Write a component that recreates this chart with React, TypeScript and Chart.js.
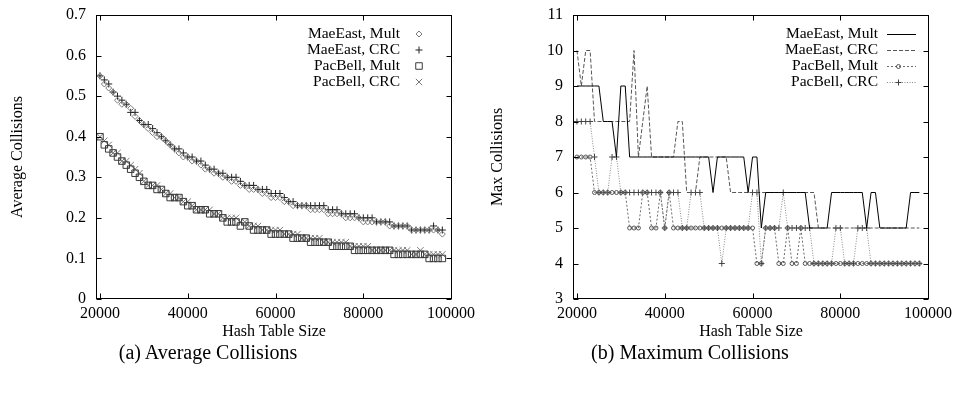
import React, { useEffect, useRef } from 'react';
import { Chart, registerables } from 'chart.js';

Chart.register(...registerables);

// ---------- data ----------
const HASH_SIZES = [
  20000, 21000, 22000, 23000, 24000, 25000, 26000, 27000, 28000, 29000,
  30000, 31000, 32000, 33000, 34000, 35000, 36000, 37000, 38000, 39000,
  40000, 41000, 42000, 43000, 44000, 45000, 46000, 47000, 48000, 49000,
  50000, 51000, 52000, 53000, 54000, 55000, 56000, 57000, 58000, 59000,
  60000, 61000, 62000, 63000, 64000, 65000, 66000, 67000, 68000, 69000,
  70000, 71000, 72000, 73000, 74000, 75000, 76000, 77000, 78000, 79000,
  80000, 81000, 82000, 83000, 84000, 85000, 86000, 87000, 88000, 89000,
  90000, 91000, 92000, 93000, 94000, 95000, 96000, 97000, 98000,
];

const SERIES_NAMES = ['MaeEast, Mult', 'MaeEast, CRC', 'PacBell, Mult', 'PacBell, CRC'];

const AVG_MAEEAST_MULT = [
  0.55, 0.53, 0.52, 0.51, 0.49, 0.48, 0.48, 0.47, 0.45, 0.44,
  0.43, 0.42, 0.41, 0.40, 0.40, 0.39, 0.38, 0.37, 0.36, 0.35,
  0.35, 0.34, 0.34, 0.33, 0.32, 0.32, 0.31, 0.31, 0.30, 0.30,
  0.29, 0.29, 0.28, 0.28, 0.27, 0.27, 0.27, 0.26, 0.26, 0.25,
  0.25, 0.25, 0.24, 0.24, 0.23, 0.23, 0.23, 0.23, 0.22, 0.22,
  0.22, 0.22, 0.21, 0.21, 0.21, 0.21, 0.20, 0.20, 0.20, 0.20,
  0.19, 0.19, 0.19, 0.19, 0.19, 0.19, 0.18, 0.18, 0.18, 0.18,
  0.18, 0.17, 0.17, 0.17, 0.17, 0.17, 0.17, 0.17, 0.16,
];
const AVG_MAEEAST_CRC = [
  0.55, 0.54, 0.53, 0.51, 0.50, 0.49, 0.48, 0.46, 0.46, 0.44,
  0.43, 0.43, 0.42, 0.41, 0.40, 0.39, 0.38, 0.37, 0.37, 0.36,
  0.35, 0.35, 0.34, 0.34, 0.33, 0.32, 0.32, 0.31, 0.31, 0.30,
  0.30, 0.30, 0.29, 0.28, 0.28, 0.28, 0.27, 0.27, 0.27, 0.26,
  0.26, 0.26, 0.25, 0.24, 0.24, 0.23, 0.23, 0.23, 0.23, 0.23,
  0.23, 0.23, 0.22, 0.22, 0.22, 0.21, 0.21, 0.21, 0.21, 0.20,
  0.20, 0.20, 0.20, 0.19, 0.19, 0.19, 0.19, 0.18, 0.18, 0.18,
  0.18, 0.17, 0.17, 0.17, 0.17, 0.17, 0.18, 0.17, 0.17,
];
const AVG_PACBELL_MULT = [
  0.40, 0.38, 0.37, 0.36, 0.35, 0.34, 0.33, 0.32, 0.31, 0.30,
  0.29, 0.28, 0.28, 0.27, 0.27, 0.26, 0.25, 0.25, 0.25, 0.24,
  0.23, 0.23, 0.22, 0.22, 0.22, 0.21, 0.21, 0.21, 0.20, 0.19,
  0.19, 0.19, 0.18, 0.19, 0.18, 0.17, 0.17, 0.17, 0.17, 0.16,
  0.16, 0.16, 0.16, 0.16, 0.15, 0.15, 0.15, 0.15, 0.14, 0.14,
  0.14, 0.14, 0.14, 0.13, 0.13, 0.13, 0.13, 0.13, 0.12, 0.12,
  0.12, 0.12, 0.12, 0.12, 0.12, 0.12, 0.12, 0.11, 0.11, 0.11,
  0.11, 0.11, 0.11, 0.11, 0.11, 0.10, 0.10, 0.10, 0.10,
];
const AVG_PACBELL_CRC = [
  0.40, 0.39, 0.38, 0.36, 0.36, 0.34, 0.34, 0.33, 0.32, 0.31,
  0.29, 0.28, 0.28, 0.28, 0.27, 0.26, 0.26, 0.25, 0.25, 0.24,
  0.24, 0.23, 0.22, 0.22, 0.22, 0.22, 0.21, 0.21, 0.20, 0.20,
  0.20, 0.20, 0.19, 0.19, 0.18, 0.18, 0.18, 0.17, 0.17, 0.17,
  0.17, 0.17, 0.16, 0.16, 0.16, 0.16, 0.15, 0.15, 0.15, 0.15,
  0.15, 0.14, 0.14, 0.14, 0.14, 0.14, 0.14, 0.13, 0.13, 0.13,
  0.13, 0.13, 0.12, 0.12, 0.12, 0.12, 0.12, 0.12, 0.12, 0.12,
  0.12, 0.11, 0.11, 0.12, 0.11, 0.11, 0.11, 0.11, 0.11,
];

const MAX_MAEEAST_MULT = [
  9, 9, 9, 9, 9, 9, 8, 8, 8, 7,
  9, 9, 7, 7, 7, 7, 7, 7, 7, 7,
  7, 7, 7, 7, 7, 7, 7, 7, 7, 7,
  7, 6, 7, 7, 7, 7, 7, 7, 7, 6,
  7, 7, 5, 6, 6, 6, 6, 6, 6, 6,
  6, 6, 6, 5, 5, 5, 5, 5, 6, 6,
  6, 6, 6, 6, 6, 6, 5, 6, 6, 5,
  5, 5, 5, 5, 5, 5, 6, 6, 6,
];
const MAX_MAEEAST_CRC = [
  10, 9, 10, 10, 8, 8, 8, 8, 8, 8,
  8, 8, 8, 10, 7, 8, 9, 7, 7, 7,
  7, 7, 7, 8, 8, 6, 6, 6, 7, 7,
  7, 7, 7, 7, 7, 6, 6, 6, 6, 6,
  6, 6, 6, 6, 6, 6, 6, 6, 6, 6,
  6, 6, 6, 6, 6, 5, 5, 5, 5, 5,
  5, 5, 5, 5, 5, 5, 5, 5, 5, 5,
  5, 5, 5, 5, 5, 5, 5, 5, 5,
];
const MAX_PACBELL_MULT = [
  7, 7, 7, 7, 6, 6, 6, 6, 6, 6,
  6, 6, 5, 5, 5, 6, 6, 5, 5, 6,
  5, 6, 5, 5, 5, 5, 5, 5, 5, 5,
  5, 5, 5, 5, 5, 5, 5, 5, 5, 5,
  5, 4, 4, 5, 5, 5, 4, 4, 5, 4,
  4, 5, 4, 4, 4, 4, 4, 4, 4, 4,
  4, 4, 4, 4, 4, 4, 4, 4, 4, 4,
  4, 4, 4, 4, 4, 4, 4, 4, 4,
];
const MAX_PACBELL_CRC = [
  8, 8, 8, 8, 7, 6, 6, 6, 7, 7,
  6, 6, 6, 6, 6, 6, 6, 6, 6, 6,
  5, 6, 6, 6, 5, 5, 6, 6, 6, 5,
  5, 5, 5, 4, 5, 5, 5, 5, 5, 5,
  6, 6, 4, 5, 5, 5, 5, 6, 5, 5,
  5, 5, 5, 5, 4, 4, 4, 4, 4, 5,
  5, 4, 4, 4, 5, 5, 5, 4, 4, 4,
  4, 4, 4, 4, 4, 4, 4, 4, 4,
];

const X_TICKS = [20000, 40000, 60000, 80000, 100000];
const X_TICK_LABELS = ['20000', '40000', '60000', '80000', '100000'];
const AVG_Y_TICKS = [0, 0.1, 0.2, 0.3, 0.4, 0.5, 0.6, 0.7];
const AVG_Y_LABELS = ['0', '0.1', '0.2', '0.3', '0.4', '0.5', '0.6', '0.7'];
const MAX_Y_TICKS = [3, 4, 5, 6, 7, 8, 9, 10, 11];
const MAX_Y_LABELS = ['3', '4', '5', '6', '7', '8', '9', '10', '11'];

// ---------- helpers ----------
const FONT = "'Liberation Serif', 'Times New Roman', Times, serif";

function toPoints(values: number[]) {
  return HASH_SIZES.map((x, i) => ({ x, y: values[i] }));
}

function drawMarker(ctx: CanvasRenderingContext2D, style: string, x: number, y: number, r: number) {
  ctx.beginPath();
  if (style === 'rectRot') {
    ctx.moveTo(x - r, y); ctx.lineTo(x, y - r); ctx.lineTo(x + r, y); ctx.lineTo(x, y + r); ctx.closePath();
  } else if (style === 'cross') {
    ctx.moveTo(x, y - r); ctx.lineTo(x, y + r); ctx.moveTo(x - r, y); ctx.lineTo(x + r, y);
  } else if (style === 'rect') {
    const s = r * Math.SQRT1_2; ctx.rect(x - s, y - s, 2 * s, 2 * s);
  } else if (style === 'crossRot') {
    const s = r * Math.SQRT1_2;
    ctx.moveTo(x - s, y - s); ctx.lineTo(x + s, y + s); ctx.moveTo(x - s, y + s); ctx.lineTo(x + s, y - s);
  } else if (style === 'circle') {
    ctx.arc(x, y, r, 0, Math.PI * 2);
  }
  ctx.stroke();
}

const framePlugin = {
  id: 'gpFrame',
  afterDatasetsDraw(chart: any) {
    const { ctx, chartArea: a, scales } = chart;
    const xs = scales.x, ys = scales.y;
    ctx.save();
    ctx.strokeStyle = '#000';
    ctx.lineWidth = 1;
    ctx.setLineDash([]);
    const L = Math.round(a.left) + 0.5, R = Math.round(a.right) - 0.5;
    const T = Math.round(a.top) + 0.5, B = Math.round(a.bottom) - 0.5;
    ctx.strokeRect(L, T, R - L, B - T);
    ctx.beginPath();
    for (const v of X_TICKS) {
      const px = Math.round(xs.getPixelForValue(v)) + 0.5;
      ctx.moveTo(px, B); ctx.lineTo(px, B - 5);
      ctx.moveTo(px, T); ctx.lineTo(px, T + 5);
    }
    for (const t of ys.ticks) {
      const py = Math.round(ys.getPixelForValue(t.value)) + 0.5;
      ctx.moveTo(L, py); ctx.lineTo(L + 5, py);
      ctx.moveTo(R, py); ctx.lineTo(R - 5, py);
    }
    ctx.stroke();
    ctx.restore();
  },
};

function legendPlugin(kind: 'markers' | 'lines', textRight: number, sx1: number, sx2: number) {
  return {
    id: 'gpLegend',
    afterDraw(chart: any) {
      const { ctx } = chart;
      ctx.save();
      ctx.font = `15.5px ${FONT}`;
      ctx.textAlign = 'right';
      ctx.textBaseline = 'middle';
      chart.data.datasets.forEach((ds: any, i: number) => {
        const y = 34 + 16 * i;
        ctx.fillStyle = '#000';
        ctx.fillText(ds.label, textRight, y);
        ctx.lineWidth = 1;
        if (kind === 'markers') {
          ctx.strokeStyle = ds.pointBorderColor;
          ctx.setLineDash([]);
          drawMarker(ctx, ds.pointStyle, sx1, y, ds.pointRadius);
        } else {
          ctx.strokeStyle = ds.borderColor;
          ctx.setLineDash(ds.borderDash || []);
          ctx.beginPath();
          ctx.moveTo(sx1, y + 0.5); ctx.lineTo(sx2, y + 0.5);
          ctx.stroke();
          if (ds.pointRadius > 0) {
            ctx.setLineDash([]);
            ctx.strokeStyle = ds.pointBorderColor;
            drawMarker(ctx, ds.pointStyle, (sx1 + sx2) / 2 - 3, y + 0.5, ds.pointRadius);
          }
        }
      });
      ctx.restore();
    },
  };
}

function makeScales(yMin: number, yMax: number, yTicks: number[], yLabels: string[], yTitle: string, yWidth: number, yTitlePad: number) {
  const font = { family: FONT, size: 16 };
  return {
    x: {
      type: 'linear',
      min: 19100,
      max: 100200,
      grid: { display: false, drawTicks: false },
      border: { display: false },
      afterBuildTicks: (s: any) => { s.ticks = X_TICKS.map((v) => ({ value: v })); },
      ticks: { callback: (_v: any, i: number) => X_TICK_LABELS[i], color: '#000', font, padding: 5, maxRotation: 0, autoSkip: false },
      title: { display: true, text: 'Hash Table Size', color: '#000', font, padding: { top: 0, bottom: 4 } },
      afterFit: (s: any) => { s.height = 46; s.paddingLeft = 0; s.paddingRight = 0; },
    },
    y: {
      type: 'linear',
      min: yMin,
      max: yMax,
      grid: { display: false, drawTicks: false },
      border: { display: false },
      afterBuildTicks: (s: any) => { s.ticks = yTicks.map((v) => ({ value: v })); },
      ticks: { callback: (_v: any, i: number) => yLabels[i], color: '#000', font, padding: 10, autoSkip: false },
      title: { display: true, text: yTitle, color: '#000', font, padding: { top: yTitlePad, bottom: 0 } },
      afterFit: (s: any) => { s.width = yWidth; s.paddingTop = 0; s.paddingBottom = 0; },
    },
  };
}

function AvgChart() {
  const ref = useRef<HTMLCanvasElement>(null);
  useEffect(() => {
    const styles = [
      { data: AVG_MAEEAST_MULT, pointStyle: 'rectRot', r: 3, color: '#7a7a7a' },
      { data: AVG_MAEEAST_CRC, pointStyle: 'cross', r: 3.5, color: '#222222' },
      { data: AVG_PACBELL_MULT, pointStyle: 'rect', r: 4.6, color: '#3a3a3a' },
      { data: AVG_PACBELL_CRC, pointStyle: 'crossRot', r: 4.5, color: '#777777' },
    ];
    const chart = new Chart(ref.current!, {
      type: 'scatter',
      data: {
        datasets: styles.map((s, i) => ({
          label: SERIES_NAMES[i],
          data: toPoints(s.data),
          showLine: false,
          pointStyle: s.pointStyle,
          pointRadius: s.r,
          pointBorderWidth: 1,
          pointBorderColor: s.color,
          pointBackgroundColor: 'rgba(0,0,0,0)',
          borderColor: s.color,
          backgroundColor: 'rgba(0,0,0,0)',
        })) as any,
      },
      options: {
        animation: false,
        responsive: false,
        devicePixelRatio: 1,
        layout: { padding: { left: 0, top: 15, right: 24, bottom: 0 } },
        scales: makeScales(0, 0.7, AVG_Y_TICKS, AVG_Y_LABELS, 'Average Collisions', 96, 8.4) as any,
        plugins: { legend: { display: false }, tooltip: { enabled: false } },
      },
      plugins: [framePlugin, legendPlugin('markers', 400, 419, 419)],
    });
    return () => chart.destroy();
  }, []);
  return <canvas ref={ref} width={476} height={345} style={{ position: 'absolute', left: 0, top: 0 }} />;
}

function MaxChart() {
  const ref = useRef<HTMLCanvasElement>(null);
  useEffect(() => {
    const styles = [
      { data: MAX_MAEEAST_MULT, color: '#000000', dash: [], pointStyle: 'circle', r: 0, pc: '#000' },
      { data: MAX_MAEEAST_CRC, color: '#555555', dash: [4, 2], pointStyle: 'circle', r: 0, pc: '#555' },
      { data: MAX_PACBELL_MULT, color: '#6a6a6a', dash: [2, 2], pointStyle: 'circle', r: 2, pc: '#555555' },
      { data: MAX_PACBELL_CRC, color: '#8a8a8a', dash: [1, 1.5], pointStyle: 'cross', r: 3, pc: '#444444' },
    ];
    const chart = new Chart(ref.current!, {
      type: 'scatter',
      data: {
        datasets: styles.map((s, i) => ({
          label: SERIES_NAMES[i],
          data: toPoints(s.data),
          showLine: true,
          tension: 0,
          borderWidth: 1,
          borderColor: s.color,
          borderDash: s.dash,
          backgroundColor: 'rgba(0,0,0,0)',
          pointStyle: s.pointStyle,
          pointRadius: s.r,
          pointBorderWidth: 1,
          pointBorderColor: s.pc,
          pointBackgroundColor: 'rgba(0,0,0,0)',
        })) as any,
      },
      options: {
        animation: false,
        responsive: false,
        devicePixelRatio: 1,
        layout: { padding: { left: 0, top: 15, right: 24, bottom: 0 } },
        scales: makeScales(3, 11, MAX_Y_TICKS, MAX_Y_LABELS, 'Max Collisions', 97, 12.4) as any,
        plugins: { legend: { display: false }, tooltip: { enabled: false } },
      },
      plugins: [framePlugin, legendPlugin('lines', 402, 411, 440)],
    });
    return () => chart.destroy();
  }, []);
  return <canvas ref={ref} width={477} height={345} style={{ position: 'absolute', left: 476, top: 0 }} />;
}

const captionStyle: React.CSSProperties = {
  position: 'absolute',
  top: 340,
  width: 320,
  textAlign: 'center',
  fontFamily: FONT,
  fontSize: 20,
  lineHeight: '24px',
  color: '#000',
  whiteSpace: 'nowrap',
};

export default function App() {
  return (
    <div style={{ position: 'absolute', left: 0, top: 0, width: 953, height: 405, background: '#fff', overflow: 'hidden' }}>
      <AvgChart />
      <MaxChart />
      <div style={{ ...captionStyle, left: 208 - 160 }}>(a) Average Collisions</div>
      <div style={{ ...captionStyle, left: 690 - 160 }}>(b) Maximum Collisions</div>
    </div>
  );
}
